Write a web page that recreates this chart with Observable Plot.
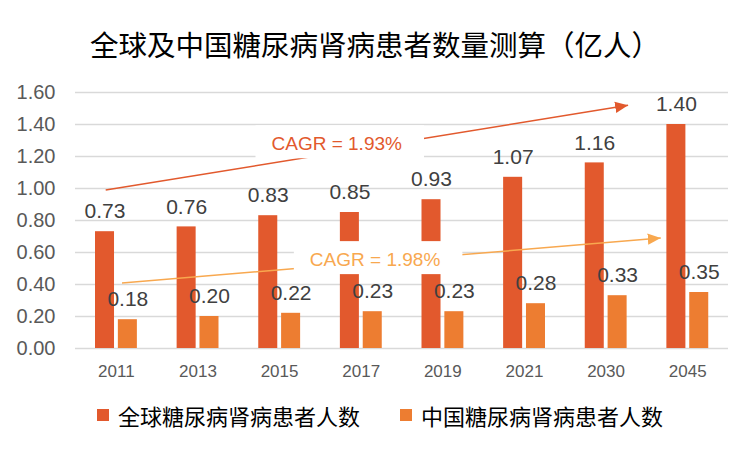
<!DOCTYPE html>
<html><head><meta charset="utf-8">
<script src="https://cdn.jsdelivr.net/npm/d3@7"></script>
<script src="https://cdn.jsdelivr.net/npm/@observablehq/plot@0.6"></script>
<style>
body{margin:0;background:#fff;}
#wrap{position:relative;width:750px;height:450px;overflow:hidden;font-family:"Noto Sans CJK SC",sans-serif;}
#title{position:absolute;top:26px;left:0;width:750px;text-align:center;font-size:28.5px;line-height:36px;color:#000;}
#chart{position:absolute;top:75px;left:0;}
#legend{position:absolute;top:400px;left:0;width:750px;height:30px;}
.item{position:absolute;top:0;display:flex;align-items:center;font-size:22px;color:#000;line-height:30px;white-space:nowrap;}
.sw{width:12px;height:12px;margin-right:9px;}
</style></head><body>
<div id="wrap"><div id="title"></div><div id="chart"></div><div id="legend"></div></div>
<script>
const titleText = "全球及中国糖尿病肾病患者数量测算（亿人）";
const years = ["2011","2013","2015","2017","2019","2021","2030","2045"];
const globalValues = [0.73,0.76,0.83,0.85,0.93,1.07,1.16,1.40];
const chinaValues = [0.18,0.20,0.22,0.23,0.23,0.28,0.33,0.35];
const seriesNames = ["全球糖尿病肾病患者人数","中国糖尿病肾病患者人数"];
const seriesColors = ["#E2592D","#ED7D31"];
const yTicks = [0,0.2,0.4,0.6,0.8,1.0,1.2,1.4,1.6];
const cagrTexts = ["CAGR = 1.93%","CAGR = 1.98%"];
const cagrColors = ["#E2592D","#F8A84F"];
// trend arrows in data units (x = category index, y = value)
const cagrFromX = [-0.13, 0.07];
const cagrFromY = [0.99, 0.41];
const cagrToX = [6.27, 6.67];
const cagrToY = [1.52, 0.69];
const cagrLabelX = [2.70, 3.17];
const cagrLabelY = [1.28, 0.556];

document.getElementById("title").textContent = titleText;

const rows = years.flatMap((yr, i) => [
  {i, year: yr, s: 0, value: globalValues[i]},
  {i, year: yr, s: 1, value: chinaValues[i]}
]);
const barOff = [[-0.255, -0.022], [0.025, 0.258]];
const arrows = cagrTexts.map((t, k) => ({
  x1: cagrFromX[k], y1: cagrFromY[k], x2: cagrToX[k], y2: cagrToY[k],
  lx: cagrLabelX[k], ly: cagrLabelY[k], label: t, color: cagrColors[k]
}));

const chart = Plot.plot({
  width: 750, height: 305,
  marginTop: 17, marginBottom: 32, marginLeft: 75, marginRight: 22,
  style: {fontFamily: "'Liberation Sans', Arial, sans-serif", background: "transparent", overflow: "visible"},
  x: {type: "linear", domain: [-0.5, years.length - 0.5]},
  y: {domain: [0, 1.6]},
  marks: [
    Plot.gridY(yTicks, {stroke: "#d9d9d9", strokeOpacity: 1, strokeWidth: 1.5}),
    Plot.axisY(yTicks, {tickSize: 0, tickPadding: 20, tickFormat: d3.format(".2f"), fontSize: 20, color: "#595959", label: null}),
    Plot.axisX(d3.range(years.length), {tickSize: 0, tickPadding: 16, tickFormat: i => years[i], fontSize: 17, color: "#595959", label: null}),
    Plot.rectY(rows, {
      x1: d => d.i + barOff[d.s][0], x2: d => d.i + barOff[d.s][1],
      y1: 0, y2: "value", fill: d => seriesColors[d.s]
    }),
    Plot.text(rows, {
      x: d => d.i + (barOff[d.s][0] + barOff[d.s][1]) / 2, y: "value",
      text: d => d3.format(".2f")(d.value), dy: -20, fontSize: 21, fill: "#404040"
    }),
    Plot.link(arrows, {x1: "x1", y1: "y1", x2: "x2", y2: "y2", stroke: "color", strokeWidth: 1.5, markerEnd: "arrow"}),
    Plot.text(arrows, {x: "lx", y: "ly", text: "label", fill: "color", fontSize: 19})
  ]
});
document.getElementById("chart").appendChild(chart);

// filled triangular arrow heads
chart.querySelectorAll("marker").forEach(m => {
  const c = m.getAttribute("stroke");
  m.setAttribute("markerWidth", 17.3);
  m.setAttribute("markerHeight", 17.3);
  m.setAttribute("fill", c);
  m.setAttribute("stroke", "none");
  const p = m.querySelector("path");
  if (p) p.setAttribute("d", "M-5,-2.2L0,0L-5,2.2Z");
});

// white boxes behind CAGR labels
chart.querySelectorAll("text").forEach(t => {
  if (!cagrTexts.includes(t.textContent)) return;
  const bb = t.getBBox();
  const r = document.createElementNS("http://www.w3.org/2000/svg", "rect");
  const cy = bb.y + bb.height / 2;
  r.setAttribute("x", bb.x - 16);
  r.setAttribute("width", bb.width + 38);
  r.setAttribute("y", cy - 18);
  r.setAttribute("height", 33);
  r.setAttribute("fill", "#fff");
  const tr = t.getAttribute("transform");
  if (tr) r.setAttribute("transform", tr);
  t.parentNode.insertBefore(r, t);
});

// legend
const legend = document.getElementById("legend");
const legendLeft = [97, 400];
seriesNames.forEach((n, k) => {
  const it = document.createElement("div");
  it.className = "item";
  it.style.left = legendLeft[k] + "px";
  const sw = document.createElement("span");
  sw.className = "sw";
  sw.style.background = seriesColors[k];
  const tx = document.createElement("span");
  tx.textContent = n;
  it.appendChild(sw); it.appendChild(tx);
  legend.appendChild(it);
});
</script>
</body></html>
